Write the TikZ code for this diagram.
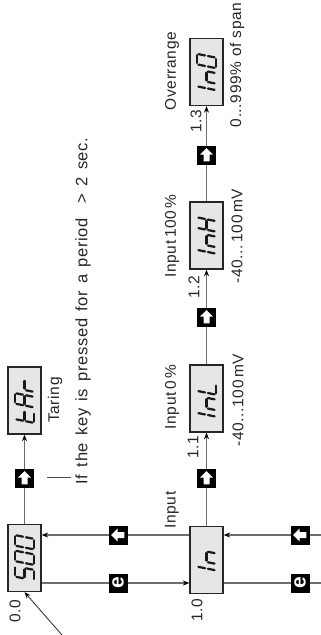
\documentclass[tikz,border=0pt]{standalone}
\usepackage{fontspec}
\setmainfont{Liberation Sans}[LetterSpace=4]
\usetikzlibrary{arrows.meta}
\definecolor{boxfill}{HTML}{E6E6E6}
\definecolor{linegray}{HTML}{6E6E6E}
\definecolor{txt}{HTML}{262626}
\newcommand\lblfont{\fontsize{15.5}{18}\selectfont}
\newcommand\longfont{\fontsize{16.5}{19}\selectfont\spaceskip=7.3pt plus 2pt minus 1pt\relax}
\newcommand\ekeyfont{\fontsize{21}{21}\selectfont\bfseries}
\newcommand\sgA[1]{\draw[segline] (#1+1.4,19) -- (#1+9.1,19);}
\newcommand\sgB[1]{\draw[segline] (#1+10.5,17.6) -- (#1+10.5,10.9);}
\newcommand\sgC[1]{\draw[segline] (#1+10.5,8.1) -- (#1+10.5,1.4);}
\newcommand\sgD[1]{\draw[segline] (#1+1.4,0) -- (#1+9.1,0);}
\newcommand\sgE[1]{\draw[segline] (#1,1.4) -- (#1,8.1);}
\newcommand\sgF[1]{\draw[segline] (#1,10.9) -- (#1,17.6);}
\newcommand\sgG[1]{\draw[segline] (#1+1.4,9.5) -- (#1+9.1,9.5);}
\newcommand\chFive[1]{\sgA{#1}\sgF{#1}\sgG{#1}\sgC{#1}\sgD{#1}}
\newcommand\chZero[1]{\sgA{#1}\sgB{#1}\sgC{#1}\sgD{#1}\sgE{#1}\sgF{#1}}
\newcommand\chT[1]{\sgF{#1}\sgE{#1}\sgD{#1}\sgG{#1}}
\newcommand\chA[1]{\sgA{#1}\sgB{#1}\sgC{#1}\sgE{#1}\sgF{#1}\sgG{#1}}
\newcommand\chR[1]{\sgE{#1}\sgG{#1}}
\newcommand\chI[1]{\sgE{#1}\sgF{#1}}
\newcommand\chN[1]{\sgC{#1}\sgE{#1}\sgG{#1}}
\newcommand\chL[1]{\sgD{#1}\sgE{#1}\sgF{#1}}
\newcommand\chH[1]{\sgB{#1}\sgC{#1}\sgE{#1}\sgF{#1}\sgG{#1}}
% #1 node, #2 length, #3 content
\newcommand\dispglyphs[3]{\begin{scope}[shift={(#1.center)},rotate=90,xslant=0.2,shift={(-#2/2,-9.5)}]#3\end{scope}}
\begin{document}
\begin{tikzpicture}[x=1pt,y=1pt,
  conn/.style={draw=linegray, line width=1.2pt},
  arr/.style={-{Stealth[length=6.5pt,width=5pt,color=black]}},
  dispbox/.style={draw=black!85, line width=1.3pt, fill=boxfill, minimum width=33pt, minimum height=67pt, inner sep=0pt},
  keybox/.style={fill=black, minimum size=19pt, inner sep=0pt},
  lbl/.style={rotate=90, font=\lblfont, text=txt, inner sep=0pt},
  segline/.style={line width=2.2pt, draw=black!90, line cap=round},
  uparr/.pic={\fill[white] (0,6.8) -- (6.3,0.5) -- (3,0.5) -- (3,-6.3) -- (-3,-6.3) -- (-3,0.5) -- (-6.3,0.5) -- cycle;},
]
\useasboundingbox (0,0) rectangle (321,-635);
% display boxes
\node[dispbox] (soo) at (24.5,-558) {};
\node[dispbox] (tar) at (24.5,-400.5) {};
\node[dispbox] (in)  at (206.5,-560) {};
\node[dispbox] (inl) at (206.5,-398.5) {};
\node[dispbox] (inh) at (206.5,-235.5) {};
\node[dispbox] (ino) at (206.5,-72) {};
% key positions and free ends
\coordinate (kt) at (24.5,-478);
\coordinate (k1) at (206.5,-478);
\coordinate (k2) at (206.5,-317);
\coordinate (k3) at (206.5,-155);
\coordinate (kb1) at (118,-535);
\coordinate (kb2) at (300,-535);
\coordinate (ke1) at (118,-583);
\coordinate (ke2) at (300,-583);
\coordinate (edgeB) at (321,-535);
\coordinate (edgeE) at (321,-583);
\coordinate (edgeP) at (62,-635);
\coordinate (cA) at (47,-477);
\coordinate (cB) at (71,-477);
% connectors
\draw[conn,arr] (soo) -- (tar);
\draw[conn,arr] (in) -- (inl);
\draw[conn,arr] (inl) -- (inh);
\draw[conn,arr] (inh) -- (ino);
\draw[conn,arr] (in.west |- kb1) -- (soo.east |- kb1);
\draw[conn,arr] (soo.east |- ke1) -- (in.west |- ke1);
\draw[conn,arr] (edgeB) -- (in.east |- edgeB);
\draw[conn] (in.east |- edgeE) -- (edgeE);
\draw[line width=0.8pt,draw=black!85,arr] (edgeP) -- (soo.south);
\draw[line width=0.9pt,draw=black!70] (cA) -- (cB);
% keys
\node[keybox] (kt0) at (kt) {}; \pic at (kt0) {uparr};
\node[keybox] (k10) at (k1) {}; \pic at (k10) {uparr};
\node[keybox] (k20) at (k2) {}; \pic at (k20) {uparr};
\node[keybox] (k30) at (k3) {}; \pic at (k30) {uparr};
\node[keybox] (kb10) at (kb1) {}; \pic[rotate=90] at (kb10) {uparr};
\node[keybox] (kb20) at (kb2) {}; \pic[rotate=90] at (kb20) {uparr};
\node[keybox, text=white, font=\ekeyfont, rotate=90] (ke10) at (ke1) {e};
\node[keybox, text=white, font=\ekeyfont, rotate=90] (ke20) at (ke2) {e};
% display glyphs
\dispglyphs{soo}{41}{\chFive{0}\chZero{15.5}\chZero{31}}
\dispglyphs{tar}{41}{\chT{0}\chA{15.5}\chR{31}}
\dispglyphs{in}{17}{\chI{0}\chN{6.5}}
\dispglyphs{inl}{32.5}{\chI{0}\chN{6.5}\chL{22}}
\dispglyphs{inh}{32.5}{\chI{0}\chN{6.5}\chH{22}}
\dispglyphs{ino}{32.5}{\chI{0}\chN{6.5}\chZero{22}}
% labels
\node[lbl] (lInput) at (172,-510) {Input};
\node[lbl] (l10) at (197,-610) {1.0};
\node[lbl] (l00) at (15,-611) {0.0};
\node[lbl] (lTar) at (55,-400) {Taring};
\node[lbl, font=\longfont] (lIf) at (83,-311) {If the key is pressed for a period~~> 2 sec.};
\node[lbl] (lIn0) at (172,-397) {Input\,0\,\%};
\node[lbl] (lR1) at (238,-400) {-40...100\,mV};
\node[lbl] (l11) at (193,-447) {1.1};
\node[lbl] (lIn100) at (172,-236) {Input\,100\,\%};
\node[lbl] (lR2) at (237,-236) {-40...\,100\,mV};
\node[lbl] (l12) at (194,-287) {1.2};
\node[lbl] (lOver) at (172,-71) {Overrange};
\node[lbl] (l13) at (196,-121) {1.3};
\node[lbl] (lSpan) at (237,-65) {0...999\% of span};
\end{tikzpicture}
\end{document}
